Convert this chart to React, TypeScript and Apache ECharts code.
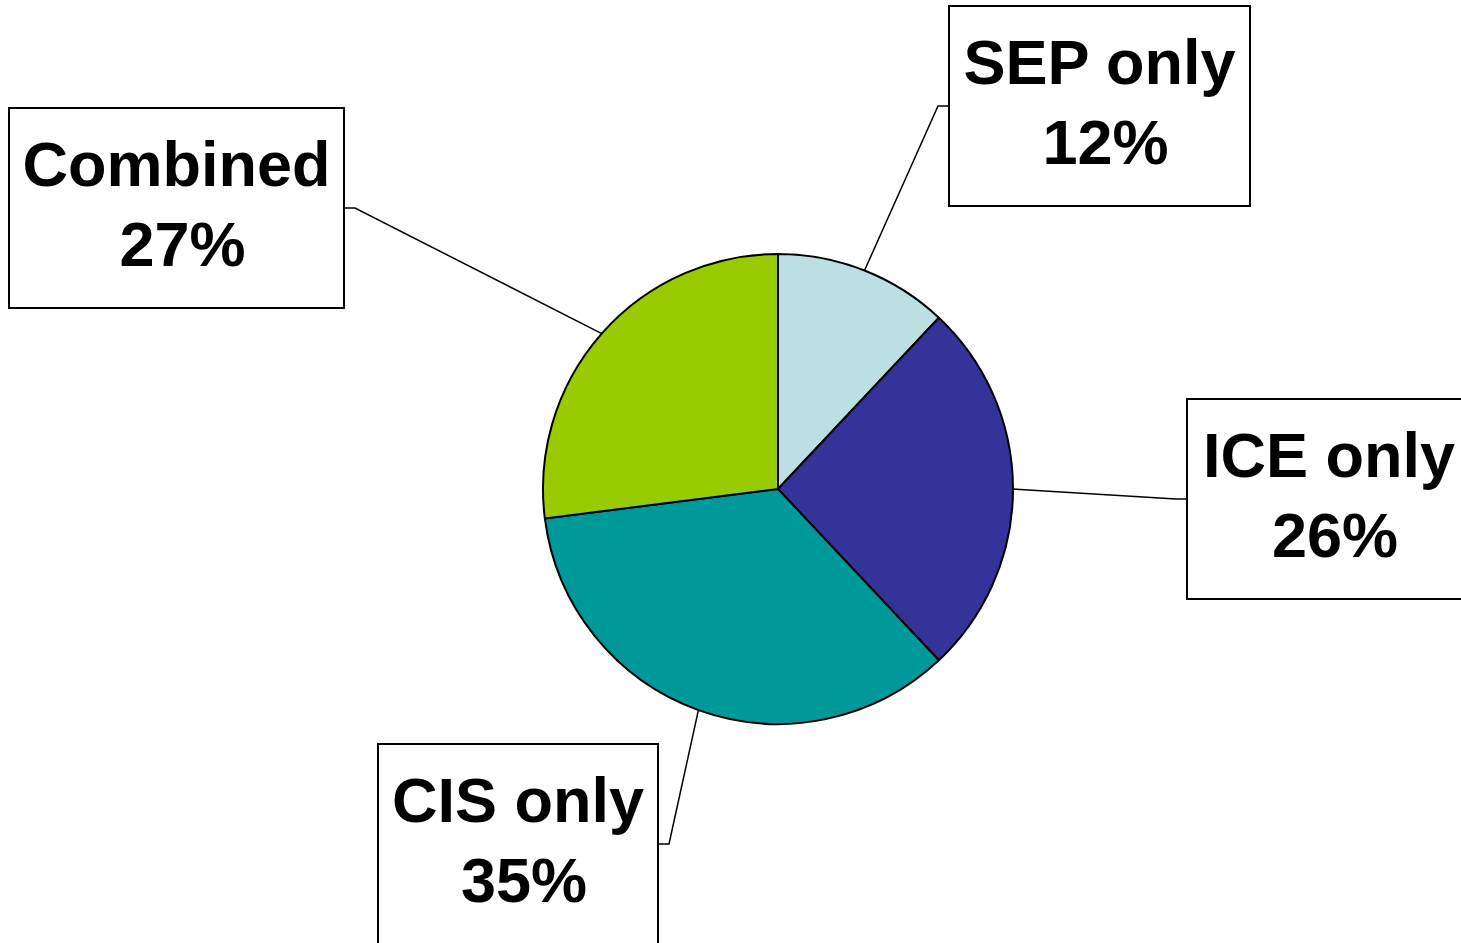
import React, { useEffect, useRef } from "react";
import * as echarts from "echarts";

// Data
const categories = ["SEP only", "ICE only", "CIS only", "Combined"];
const shares = [12, 26, 35, 27];
const sliceColors = ["#BBDFE3", "#333399", "#009999", "#99CC00"];

// Label box layout (center x, center y, box width, side of box the leader attaches to)
const labelBoxCenterX = [1099.5, 1329, 518, 176.5];
const labelBoxCenterY = [106, 499, 844, 208];
const labelBoxWidth = [299, 282, 278, 333];
const labelAttachSide = ["left", "left", "right", "right"];

const FONT = "'Liberation Sans', Arial, sans-serif";

export default function App() {
  const ref = useRef<HTMLDivElement>(null);

  useEffect(() => {
    if (!ref.current) return;
    const chart = echarts.init(ref.current, undefined, { renderer: "svg" });

    const data = categories.map((name, i) => ({
      name,
      value: shares[i],
      itemStyle: { color: sliceColors[i] },
      label: { width: labelBoxWidth[i] },
    }));

    const textBase = {
      fontFamily: FONT,
      fontWeight: "bold",
      fontSize: 63,
      lineHeight: 80,
      color: "#000000",
    };

    chart.setOption({
      animation: false,
      backgroundColor: "#ffffff",
      series: [
        {
          type: "pie",
          center: [778, 489],
          radius: 235,
          startAngle: 90,
          clockwise: true,
          avoidLabelOverlap: false,
          silent: true,
          data,
          itemStyle: { borderColor: "#000000", borderWidth: 2 },
          emphasis: { disabled: true },
          label: {
            show: true,
            position: "outside",
            formatter: (p: any) =>
              `{t|${p.name}}\n{p|${Math.round(p.percent)}%}`,
            ...textBase,
            align: "center",
            backgroundColor: "#ffffff",
            borderColor: "#000000",
            borderWidth: 2,
            padding: [15, 0, 23, 0],
            rich: {
              t: { ...textBase },
              p: { ...textBase, padding: [0, 0, 0, 12] },
            },
          },
          labelLine: {
            show: true,
            smooth: false,
            lineStyle: { color: "#000000", width: 1.5 },
          },
          labelLayout: (params: any) => {
            const i = params.dataIndex;
            const cx = labelBoxCenterX[i];
            const cy = labelBoxCenterY[i];
            const half = labelBoxWidth[i] / 2;
            const edgeX = labelAttachSide[i] === "left" ? cx - half : cx + half;
            const elbowX = labelAttachSide[i] === "left" ? edgeX - 12 : edgeX + 12;
            const start = params.labelLinePoints
              ? params.labelLinePoints[0]
              : [cx, cy];
            return {
              x: cx,
              y: cy,
              align: "center",
              verticalAlign: "middle",
              labelLinePoints: [
                [start[0], start[1]],
                [elbowX, cy],
                [edgeX, cy],
              ],
            };
          },
        },
      ],
    });

    return () => chart.dispose();
  }, []);

  return (
    <div
      ref={ref}
      style={{ position: "fixed", left: 0, top: 0, width: 1461, height: 943 }}
    />
  );
}
